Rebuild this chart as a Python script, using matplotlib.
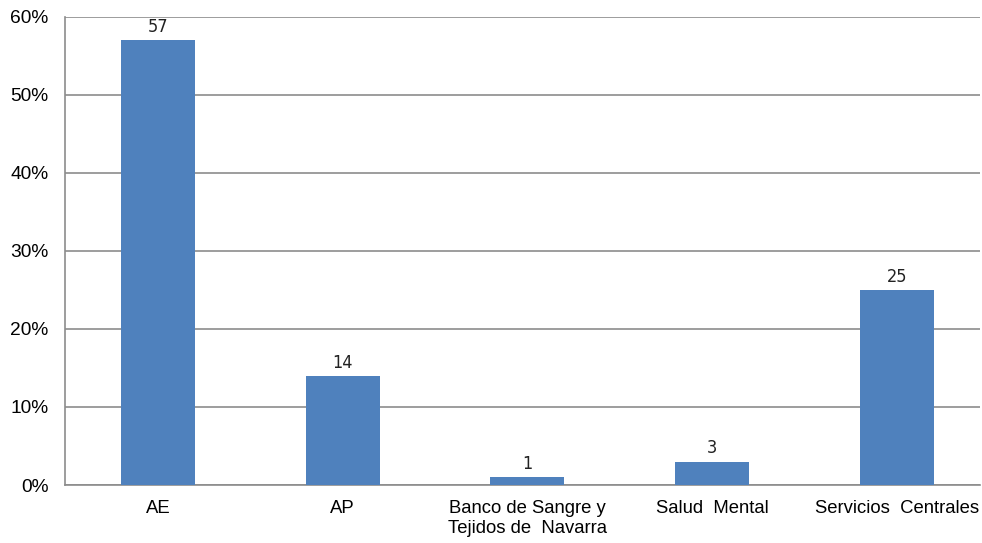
import matplotlib
matplotlib.use("Agg")
import matplotlib.pyplot as plt
from matplotlib.ticker import FuncFormatter

categories = ["AE", "AP", "Banco de Sangre y\nTejidos de  Navarra", "Salud  Mental", "Servicios  Centrales"]
values = [57, 14, 1, 3, 25]
yticks = [0, 10, 20, 30, 40, 50, 60]

plt.rcParams['font.family'] = ['Liberation Sans', 'DejaVu Sans']

fig = plt.figure(figsize=(9.82, 5.43), dpi=100)
ax = fig.add_axes([0.0662, 0.1068, 0.9318, 0.862])

x = range(len(categories))
bars = ax.bar(x, values, width=0.40, color="#4F81BD", zorder=3)

for xi, v in zip(x, values):
    ax.text(xi, v + 0.55, f"{v}", ha="center", va="bottom", fontsize=13,
            family=['Liberation Sans Narrow', 'DejaVu Sans'], fontstretch='condensed',
            color="#222222")

ax.set_xlim(-0.503, 4.45)
ax.set_ylim(0, 60)
ax.set_yticks(yticks)
ax.yaxis.set_major_formatter(FuncFormatter(lambda v, p: f"{int(v)}%"))
ax.set_xticks(list(x))
ax.set_xticklabels(categories, fontsize=13.3, linespacing=1.2)
ax.tick_params(axis="y", labelsize=13.8, length=0, pad=12)
ax.tick_params(axis="x", length=0, pad=11)

ax.grid(axis="y", color="#8c8c8c", linewidth=1.2, zorder=0)
for s in ["top", "right"]:
    ax.spines[s].set_visible(False)
for s in ["left", "bottom"]:
    ax.spines[s].set_color("#8c8c8c")
    ax.spines[s].set_linewidth(1.2)

fig.savefig("out.png", dpi=100)
